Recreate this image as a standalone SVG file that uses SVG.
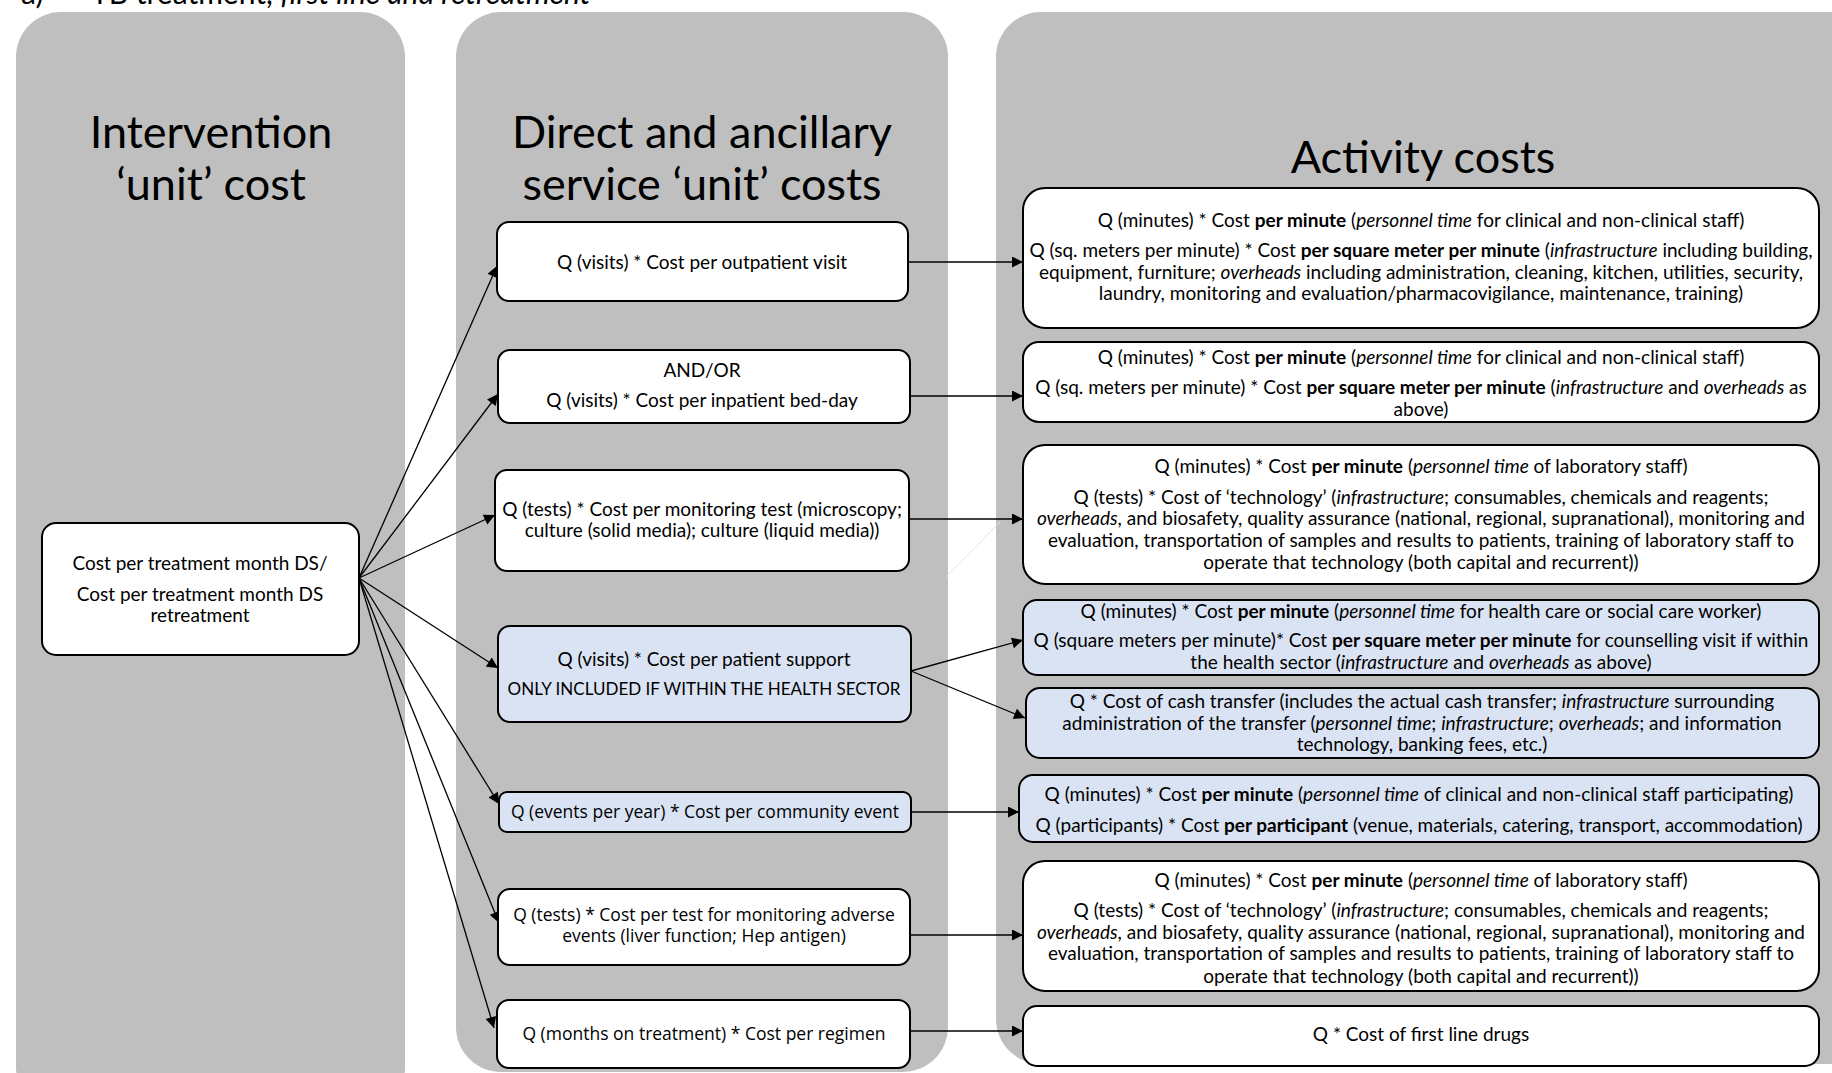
<svg xmlns="http://www.w3.org/2000/svg" width="1832" height="1073" viewBox="0 0 1832 1073">
<style>
.panel{fill:#bfbfbf}
.box{fill:#ffffff;stroke:#000;stroke-width:2}
.blue{fill:#dae3f3}
text{font-family:Lato,"Open Sans",sans-serif;fill:#000;text-anchor:middle}
.t{font-size:19px}
.s{font-family:"Open Sans",Lato,sans-serif;font-size:17.5px}
.title{font-size:45px}
.b{font-weight:bold}
.i{font-style:italic}
.conn line{stroke:#000;stroke-width:1.3}
</style>
<defs>
<marker id="ah" viewBox="0 0 10 10" refX="10" refY="5" markerWidth="13" markerHeight="11" markerUnits="userSpaceOnUse" orient="auto">
<path d="M0,0 L10,5 L0,10 z" fill="#000"/>
</marker>
</defs>
<rect width="1832" height="1073" fill="#fff"/>
<text x="21" y="4" style="font-size:30px;text-anchor:start">a)<tspan x="91">TB treatment, </tspan><tspan class="i">first line and retreatment</tspan></text>

<g id="panel-intervention"><rect class="panel" x="16" y="12" width="389" height="1100" rx="45"/>
<text class="title" x="211" y="148">Intervention</text><text class="title" x="211" y="200">‘unit’ cost</text></g>
<g id="panel-direct"><rect class="panel" x="456" y="12" width="492" height="1060" rx="45"/>
<text class="title" x="702" y="148">Direct and ancillary</text><text class="title" x="702" y="200">service ‘unit’ costs</text></g>
<g id="panel-activity"><rect class="panel" x="996" y="12" width="880" height="1052" rx="45"/>
<text class="title" x="1423" y="173">Activity costs</text></g>

<g class="conn">
<line x1="359" y1="578" x2="497" y2="266" marker-end="url(#ah)"/>
<line x1="359" y1="578" x2="498" y2="394" marker-end="url(#ah)"/>
<line x1="359" y1="578" x2="495" y2="515" marker-end="url(#ah)"/>
<line x1="359" y1="578" x2="498" y2="668" marker-end="url(#ah)"/>
<line x1="359" y1="578" x2="499" y2="804" marker-end="url(#ah)"/>
<line x1="359" y1="578" x2="499" y2="923" marker-end="url(#ah)"/>
<line x1="359" y1="578" x2="494" y2="1028" marker-end="url(#ah)"/>
<line x1="908" y1="262" x2="1023" y2="262" marker-end="url(#ah)"/>
<line x1="910" y1="396" x2="1023" y2="396" marker-end="url(#ah)"/>
<line x1="909" y1="519" x2="1023" y2="519" marker-end="url(#ah)"/>
<line x1="911" y1="671" x2="1023" y2="640" marker-end="url(#ah)"/>
<line x1="911" y1="671" x2="1025" y2="718" marker-end="url(#ah)"/>
<line x1="911" y1="812" x2="1019" y2="812" marker-end="url(#ah)"/>
<line x1="910" y1="935" x2="1023" y2="935" marker-end="url(#ah)"/>
<line x1="910" y1="1031" x2="1023" y2="1031" marker-end="url(#ah)"/>
<line x1="946" y1="577" x2="1000" y2="522" style="stroke:#e6e6e6;stroke-width:1"/>
</g>

<g id="node-intervention"><rect class="box" x="42" y="523" width="317" height="132" rx="14"/>
<text class="t" x="200" y="570">Cost per treatment month DS/</text>
<text class="t" x="200" y="601">Cost per treatment month DS</text>
<text class="t" x="200" y="622">retreatment</text></g>

<g id="node-outpatient"><rect class="box" x="497" y="222" width="411" height="79" rx="12"/>
<text class="t" x="702" y="269">Q (visits) * Cost per outpatient visit</text></g>
<g id="node-inpatient"><rect class="box" x="498" y="350" width="412" height="73" rx="12"/>
<text class="t" x="702" y="377">AND/OR</text>
<text class="t" x="702" y="407">Q (visits) * Cost per inpatient bed-day</text></g>
<g id="node-monitoring-test"><rect class="box" x="495" y="470" width="414" height="101" rx="12"/>
<text class="t" x="702" y="516">Q (tests) * Cost per monitoring test (microscopy;</text>
<text class="t" x="702" y="537">culture (solid media); culture (liquid media))</text></g>
<g id="node-patient-support"><rect class="box blue" x="498" y="626" width="413" height="96" rx="12"/>
<text class="t" x="704" y="666">Q (visits) * Cost per patient support</text>
<text class="t" x="704" y="695" style="font-size:17px">ONLY INCLUDED IF WITHIN THE HEALTH SECTOR</text></g>
<g id="node-community-event"><rect class="box blue" x="499" y="792" width="412" height="40" rx="8"/>
<text class="s" x="705" y="818">Q (events per year) * Cost per community event</text></g>
<g id="node-adverse-events"><rect class="box" x="498" y="889" width="412" height="76" rx="12"/>
<text class="s" x="704" y="921">Q (tests) * Cost per test for monitoring adverse</text>
<text class="s" x="704" y="942">events (liver function; Hep antigen)</text></g>
<g id="node-regimen"><rect class="box" x="497" y="1000" width="413" height="68" rx="12"/>
<text class="s" x="704" y="1040">Q (months on treatment)  * Cost per regimen</text></g>

<g id="node-act-outpatient"><rect class="box" x="1023" y="188" width="796" height="140" rx="22"/>
<text class="t" x="1421" y="227">Q (minutes) * Cost <tspan class="b">per minute</tspan> (<tspan class="i">personnel time</tspan> for clinical and non-clinical staff)</text>
<text class="t" x="1421" y="257">Q (sq. meters per minute) * Cost <tspan class="b">per square meter per minute</tspan> (<tspan class="i">infrastructure</tspan> including building,</text>
<text class="t" x="1421" y="279">equipment,  furniture; <tspan class="i">overheads</tspan> including administration, cleaning, kitchen, utilities, security,</text>
<text class="t" x="1421" y="300">laundry, monitoring  and evaluation/pharmacovigilance, maintenance, training)</text></g>

<g id="node-act-inpatient"><rect class="box" x="1023" y="342" width="796" height="80" rx="16"/>
<text class="t" x="1421" y="364">Q (minutes) * Cost <tspan class="b">per minute</tspan> (<tspan class="i">personnel time</tspan> for clinical and non-clinical staff)</text>
<text class="t" x="1421" y="394">Q (sq. meters per minute) * Cost <tspan class="b">per square meter per minute</tspan> (<tspan class="i">infrastructure</tspan> and <tspan class="i">overheads</tspan> as</text>
<text class="t" x="1421" y="416">above)</text></g>

<g id="node-act-lab1"><rect class="box" x="1023" y="445" width="796" height="139" rx="22"/>
<text class="t" x="1421" y="473">Q (minutes) * Cost <tspan class="b">per minute</tspan> (<tspan class="i">personnel time</tspan> of laboratory staff)</text>
<text class="t" x="1421" y="504">Q (tests) * Cost of ‘technology’ (<tspan class="i">infrastructure</tspan>; consumables, chemicals and reagents;</text>
<text class="t" x="1421" y="525"><tspan class="i">overheads</tspan>, and biosafety, quality assurance (national, regional, supranational), monitoring and</text>
<text class="t" x="1421" y="547">evaluation, transportation  of samples and results to patients, training of laboratory staff to</text>
<text class="t" x="1421" y="569">operate that technology (both capital and recurrent))</text></g>

<g id="node-act-support-staff"><rect class="box blue" x="1023" y="600" width="796" height="75" rx="14"/>
<text class="t" x="1421" y="618">Q (minutes) * Cost <tspan class="b">per minute</tspan> (<tspan class="i">personnel time</tspan> for health care or social care worker)</text>
<text class="t" x="1421" y="647">Q (square meters per minute)* Cost <tspan class="b">per square meter per minute</tspan> for counselling visit if within</text>
<text class="t" x="1421" y="669">the health sector (<tspan class="i">infrastructure</tspan> and <tspan class="i">overheads</tspan> as above)</text></g>

<g id="node-act-cash"><rect class="box blue" x="1026" y="688" width="793" height="70" rx="14"/>
<text class="t" x="1422" y="708">Q * Cost of cash transfer (includes the actual cash transfer; <tspan class="i">infrastructure</tspan> surrounding</text>
<text class="t" x="1422" y="730">administration of the transfer (<tspan class="i">personnel time</tspan>; <tspan class="i">infrastructure</tspan>; <tspan class="i">overheads</tspan>; and information</text>
<text class="t" x="1422" y="751">technology, banking fees, etc.)</text></g>

<g id="node-act-community"><rect class="box blue" x="1019" y="775" width="800" height="67" rx="14"/>
<text class="t" x="1419" y="801">Q (minutes) * Cost <tspan class="b">per minute</tspan> (<tspan class="i">personnel time</tspan> of clinical and non-clinical staff participating)</text>
<text class="t" x="1419" y="832">Q (participants) * Cost <tspan class="b">per participant</tspan> (venue, materials, catering, transport, accommodation)</text></g>

<g id="node-act-lab2"><rect class="box" x="1023" y="861" width="796" height="130" rx="22"/>
<text class="t" x="1421" y="887">Q (minutes) * Cost <tspan class="b">per minute</tspan> (<tspan class="i">personnel time</tspan> of laboratory staff)</text>
<text class="t" x="1421" y="917">Q (tests) * Cost of ‘technology’ (<tspan class="i">infrastructure</tspan>; consumables, chemicals and reagents;</text>
<text class="t" x="1421" y="939"><tspan class="i">overheads</tspan>, and biosafety, quality assurance (national, regional, supranational), monitoring and</text>
<text class="t" x="1421" y="960">evaluation, transportation  of samples and results to patients, training of laboratory staff to</text>
<text class="t" x="1421" y="983">operate that technology (both capital and recurrent))</text></g>

<g id="node-act-drugs"><rect class="box" x="1023" y="1006" width="796" height="60" rx="14"/>
<text class="t" x="1421" y="1041">Q * Cost of first line drugs</text></g>
</svg>
